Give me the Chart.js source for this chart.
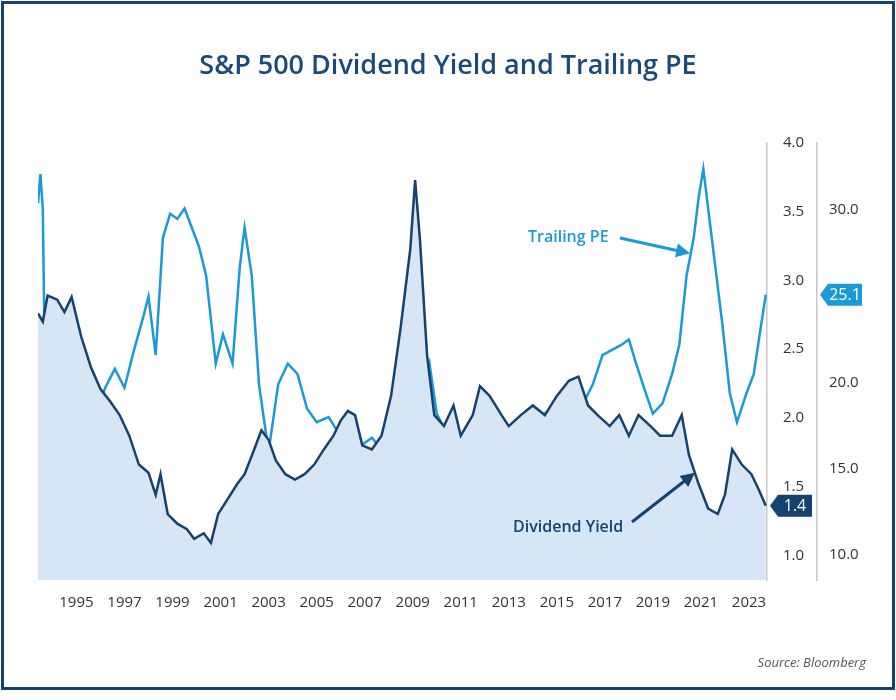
<!DOCTYPE html>
<html>
<head>
<meta charset="utf-8">
<script src="https://cdn.jsdelivr.net/npm/chart.js@4/dist/chart.umd.min.js"></script>
<style>
  body { margin: 0; background: #fff; }
  #wrap { width: 896px; height: 700px; position: relative; }
  canvas { position: absolute; left: 0; top: 0; }
</style>
</head>
<body>
<div id="wrap"><canvas id="chart" width="896" height="700"></canvas></div>
<script>
// dividend yield (%), by decimal year
const yieldYears = [1993.4, 1993.6, 1993.8, 1994.2, 1994.5, 1994.8, 1995.2, 1995.6, 1996.0, 1996.4, 1996.8, 1997.2, 1997.6, 1998.0, 1998.3, 1998.5, 1998.8, 1999.2, 1999.6, 1999.9, 2000.3, 2000.6, 2000.9, 2001.3, 2001.7, 2002.0, 2002.4, 2002.7, 2003.0, 2003.3, 2003.7, 2004.1, 2004.5, 2004.9, 2005.3, 2005.7, 2006.0, 2006.3, 2006.6, 2006.9, 2007.3, 2007.7, 2008.1, 2008.5, 2008.9, 2009.1, 2009.3, 2009.6, 2009.9, 2010.3, 2010.7, 2011.0, 2011.5, 2011.8, 2012.2, 2012.7, 2013.0, 2013.5, 2014.0, 2014.5, 2015.0, 2015.5, 2015.9, 2016.3, 2016.7, 2017.2, 2017.6, 2018.0, 2018.4, 2018.9, 2019.3, 2019.8, 2020.2, 2020.5, 2020.9, 2021.3, 2021.7, 2022.0, 2022.3, 2022.7, 2023.1, 2023.4, 2023.7];
const yieldValues = [2.76, 2.70, 2.89, 2.86, 2.77, 2.88, 2.59, 2.37, 2.21, 2.12, 2.02, 1.87, 1.66, 1.60, 1.44, 1.59, 1.30, 1.23, 1.19, 1.12, 1.16, 1.09, 1.30, 1.41, 1.52, 1.59, 1.77, 1.91, 1.84, 1.69, 1.59, 1.55, 1.59, 1.66, 1.77, 1.87, 1.98, 2.05, 2.02, 1.80, 1.77, 1.87, 2.16, 2.66, 3.23, 3.73, 3.30, 2.45, 2.02, 1.94, 2.09, 1.87, 2.02, 2.23, 2.16, 2.02, 1.94, 2.02, 2.09, 2.02, 2.16, 2.27, 2.30, 2.09, 2.02, 1.94, 2.02, 1.87, 2.02, 1.94, 1.87, 1.87, 2.02, 1.73, 1.52, 1.34, 1.30, 1.44, 1.77, 1.66, 1.59, 1.48, 1.36];

// trailing PE, by decimal year
const peYears = [1993.4, 1993.5, 1993.6, 1993.7, 1993.9, 1994.2, 1994.6, 1995.0, 1995.4, 1995.8, 1996.2, 1996.6, 1997.0, 1997.4, 1997.8, 1998.0, 1998.3, 1998.6, 1998.9, 1999.2, 1999.5, 1999.8, 2000.1, 2000.4, 2000.8, 2001.1, 2001.5, 2001.8, 2002.0, 2002.3, 2002.6, 2003.0, 2003.4, 2003.8, 2004.2, 2004.6, 2005.0, 2005.5, 2005.9, 2006.3, 2006.8, 2007.3, 2007.6, 2008.0, 2008.3, 2008.6, 2008.9, 2009.1, 2009.4, 2009.7, 2010.0, 2010.4, 2010.8, 2011.2, 2011.6, 2012.0, 2012.5, 2013.0, 2013.4, 2013.8, 2014.3, 2014.8, 2015.3, 2015.7, 2016.1, 2016.5, 2016.9, 2017.3, 2017.7, 2018.0, 2018.3, 2018.7, 2019.0, 2019.4, 2019.8, 2020.1, 2020.4, 2020.7, 2020.9, 2021.1, 2021.3, 2021.6, 2021.9, 2022.2, 2022.5, 2022.9, 2023.2, 2023.5, 2023.7];
const peValues = [30.4, 32.1, 30.1, 19.4, 22.8, 17.1, 16.8, 16.6, 17.7, 18.2, 19.7, 20.8, 19.7, 21.9, 23.9, 25.0, 21.6, 28.4, 29.8, 29.5, 30.1, 29.0, 27.9, 26.2, 21.1, 22.8, 21.1, 26.7, 29.0, 26.2, 19.9, 16.0, 19.9, 21.1, 20.5, 18.5, 17.7, 18.0, 17.1, 16.8, 16.3, 16.8, 16.3, 17.1, 13.2, 11.5, 10.6, 13.7, 19.4, 21.1, 18.2, 17.1, 15.4, 13.2, 14.9, 14.0, 15.1, 16.0, 17.1, 17.7, 18.0, 18.5, 18.2, 19.4, 18.8, 19.9, 21.6, 21.9, 22.2, 22.5, 21.1, 19.4, 18.2, 18.8, 20.5, 22.2, 26.2, 28.4, 30.7, 32.4, 30.1, 26.7, 23.3, 19.4, 17.7, 19.4, 20.5, 23.3, 25.1];

const xTicks = [1995, 1997, 1999, 2001, 2003, 2005, 2007, 2009, 2011, 2013, 2015, 2017, 2019, 2021, 2023];
const yieldTicks = [1.0, 1.5, 2.0, 2.5, 3.0, 3.5, 4.0];
const peTicks = [10, 15, 20, 25, 30];

const NAVY = '#15426e';
const BLUE = '#1b9ad6';

const toPts = (xs, ys) => xs.map((x, i) => ({ x: x, y: ys[i] }));

function arrow(ctx, x1, y1, x2, y2, color) {
    const a = Math.atan2(y2 - y1, x2 - x1);
    ctx.strokeStyle = color; ctx.fillStyle = color; ctx.lineWidth = 3;
    ctx.beginPath();
    ctx.moveTo(x1, y1);
    ctx.lineTo(x2 - 10 * Math.cos(a), y2 - 10 * Math.sin(a));
    ctx.stroke();
    ctx.beginPath();
    ctx.moveTo(x2, y2);
    ctx.lineTo(x2 - 14 * Math.cos(a) + 7 * Math.sin(a), y2 - 14 * Math.sin(a) - 7 * Math.cos(a));
    ctx.lineTo(x2 - 14 * Math.cos(a) - 7 * Math.sin(a), y2 - 14 * Math.sin(a) + 7 * Math.cos(a));
    ctx.closePath();
    ctx.fill();
}

function badge(ctx, x, y, text, color) {
    ctx.fillStyle = color;
    ctx.beginPath();
    ctx.moveTo(x, y);
    ctx.lineTo(x + 8, y - 11);
    ctx.lineTo(x + 42, y - 11);
    ctx.lineTo(x + 42, y + 11);
    ctx.lineTo(x + 8, y + 11);
    ctx.closePath();
    ctx.fill();
    ctx.fillStyle = '#fff';
    ctx.font = '16px "Open Sans"';
    ctx.textAlign = 'center';
    ctx.textBaseline = 'middle';
    ctx.fillText(text, x + 25, y + 1);
}

const extras = {
    id: 'extras',
    afterDraw(chart) {
        const ctx = chart.ctx;
        const sx = chart.scales.x, sy = chart.scales.y, sp = chart.scales.pe;
        ctx.save();
        // frame
        ctx.strokeStyle = NAVY; ctx.lineWidth = 3;
        ctx.strokeRect(2.5, 2.5, 891, 686);
        // title
        ctx.fillStyle = '#1c4a78';
        ctx.font = '600 27px "Open Sans"';
        ctx.textAlign = 'center'; ctx.textBaseline = 'middle';
        ctx.fillText('S&P 500 Dividend Yield and Trailing PE', 448, 66);
        // source
        ctx.fillStyle = '#555';
        ctx.font = 'italic 13px "Open Sans"';
        ctx.textAlign = 'right';
        ctx.fillText('Source: Bloomberg', 866, 663);
        // annotations
        ctx.font = '600 16px "Open Sans"';
        ctx.textAlign = 'left';
        ctx.fillStyle = BLUE;
        ctx.fillText('Trailing PE', 528, 237);
        arrow(ctx, 620, 238, sx.getPixelForValue(2020.55), sp.getPixelForValue(27.5), BLUE);
        ctx.fillStyle = NAVY;
        ctx.fillText('Dividend Yield', 513, 527);
        arrow(ctx, 632, 522, sx.getPixelForValue(2020.75), sy.getPixelForValue(1.6), NAVY);
        // end value badges
        badge(ctx, sp.left + 3, sp.getPixelForValue(25.1), '25.1', BLUE);
        badge(ctx, sy.left + 3, sy.getPixelForValue(1.36), '1.4', NAVY);
        ctx.restore();
    }
};

new Chart(document.getElementById('chart'), {
    type: 'line',
    data: {
        datasets: [{
            label: 'Dividend Yield',
            data: toPts(yieldYears, yieldValues),
            yAxisID: 'y',
            borderColor: NAVY,
            backgroundColor: '#d6e6f6',
            fill: 'start',
            borderWidth: 2.5,
            pointRadius: 0,
            tension: 0
        }, {
            label: 'Trailing PE',
            data: toPts(peYears, peValues),
            yAxisID: 'pe',
            borderColor: BLUE,
            borderWidth: 2.5,
            pointRadius: 0,
            fill: false,
            tension: 0
        }]
    },
    options: {
        responsive: false,
        animation: false,
        layout: { padding: { left: 38, top: 143, right: 26, bottom: 82 } },
        plugins: { legend: { display: false }, tooltip: { enabled: false } },
        scales: {
            x: {
                type: 'linear',
                min: 1993.4,
                max: 2023.75,
                afterBuildTicks: (s) => { s.ticks = xTicks.map(v => ({ value: v })); },
                grid: { display: false },
                border: { display: false },
                ticks: { color: '#333', font: { family: '"Open Sans"', size: 15 }, padding: 6, callback: (v) => String(v), maxRotation: 0, autoSkip: false }
            },
            y: {
                position: 'right',
                min: 0.82,
                max: 4.0,
                afterBuildTicks: (s) => { s.ticks = yieldTicks.map(v => ({ value: v })); },
                afterFit: (s) => { s.width = 50; },
                grid: { drawOnChartArea: false, drawTicks: false },
                border: { color: '#c8c8c8', width: 1.5 },
                ticks: { color: '#333', font: { family: '"Open Sans"', size: 15 }, padding: 16, callback: (v) => v.toFixed(1) }
            },
            pe: {
                position: 'right',
                min: 8.55,
                max: 33.9,
                afterBuildTicks: (s) => { s.ticks = peTicks.map(v => ({ value: v })); },
                afterFit: (s) => { s.width = 53; },
                grid: { drawOnChartArea: false, drawTicks: false },
                border: { color: '#c8c8c8', width: 1.5 },
                ticks: { color: '#333', font: { family: '"Open Sans"', size: 15 }, padding: 12, callback: (v) => v.toFixed(1) }
            }
        }
    },
    plugins: [extras]
});
</script>
</body>
</html>
